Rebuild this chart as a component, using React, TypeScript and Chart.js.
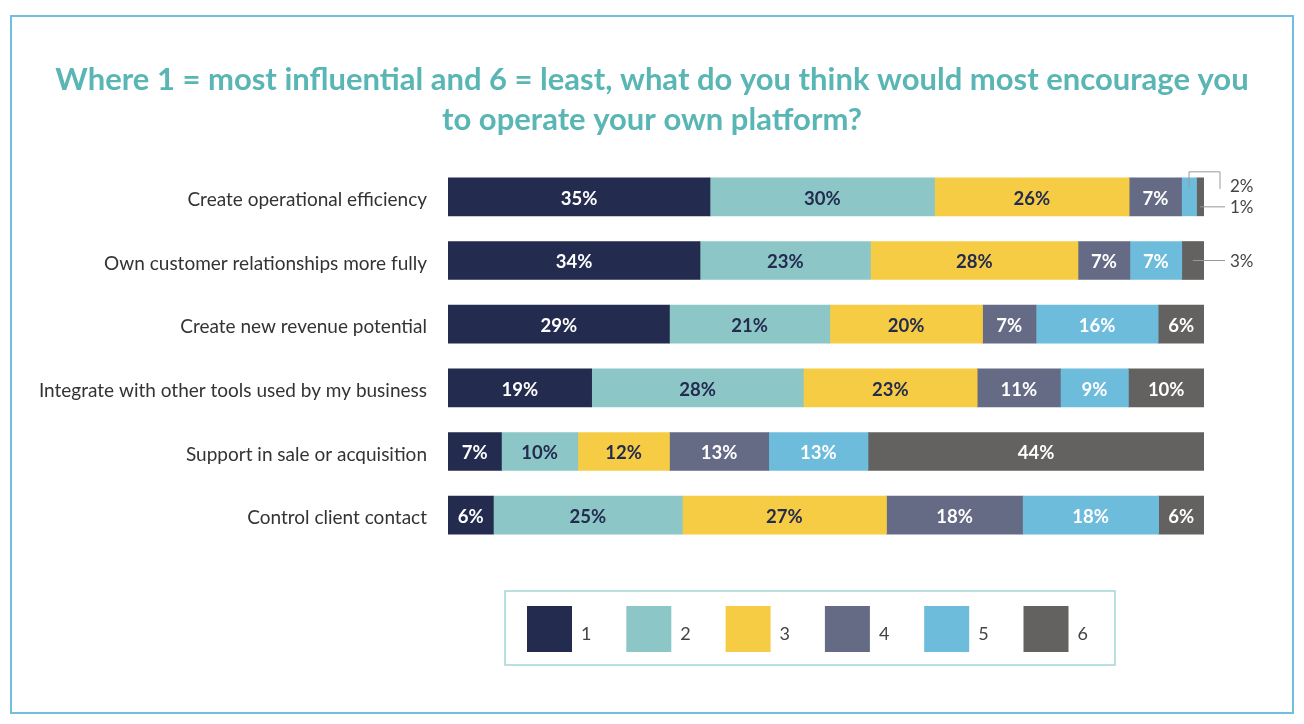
import React, { useEffect, useRef } from "react";
import { Chart, registerables } from "chart.js";

Chart.register(...registerables);

const titleLines = [
  "Where 1 = most influential and 6 = least, what do you think would most encourage you",
  "to operate your own platform?",
];

const categories = [
  "Create operational efficiency",
  "Own customer relationships more fully",
  "Create new revenue potential",
  "Integrate with other tools used by my business",
  "Support in sale or acquisition",
  "Control client contact",
];

const rankLabels = ["1", "2", "3", "4", "5", "6"];
const rank1 = [35, 34, 29, 19, 7, 6];
const rank2 = [30, 23, 21, 28, 10, 25];
const rank3 = [26, 28, 20, 23, 12, 27];
const rank4 = [7, 7, 7, 11, 13, 18];
const rank5 = [2, 7, 16, 9, 13, 18];
const rank6 = [1, 3, 6, 10, 44, 6];

const seriesValues = [rank1, rank2, rank3, rank4, rank5, rank6];
const colors = ["#232b4f", "#8cc6c6", "#f6cc45", "#656a85", "#6dbcdc", "#636260"];
const textColors = ["#ffffff", "#232b4f", "#232b4f", "#ffffff", "#ffffff", "#ffffff"];

const FONT = "Lato, 'Open Sans', sans-serif";

export default function App() {
  const ref = useRef<HTMLCanvasElement | null>(null);

  useEffect(() => {
    if (!ref.current) return;
    const totals = categories.map((_, i) =>
      seriesValues.reduce((s, arr) => s + arr[i], 0)
    );

    const decorPlugin = {
      id: "decor",
      beforeDraw(chart: any) {
        const ctx = chart.ctx;
        ctx.save();
        ctx.fillStyle = "#ffffff";
        ctx.fillRect(0, 0, chart.width, chart.height);
        ctx.strokeStyle = "#6fbfdd";
        ctx.lineWidth = 2;
        ctx.strokeRect(11, 16, 1282, 697);
        ctx.fillStyle = "#5ab5b5";
        ctx.font = `bold 31px ${FONT}`;
        ctx.textAlign = "center";
        ctx.textBaseline = "middle";
        ctx.fillText(titleLines[0], 652, 80);
        ctx.fillText(titleLines[1], 652, 120);
        // legend
        ctx.strokeStyle = "#a3d6d6";
        ctx.lineWidth = 1.5;
        ctx.strokeRect(505, 591, 610, 74);
        ctx.font = `18px ${FONT}`;
        ctx.textAlign = "left";
        for (let k = 0; k < rankLabels.length; k++) {
          const x = 527 + k * 99.3;
          ctx.fillStyle = colors[k];
          ctx.fillRect(x, 606, 45, 46);
          ctx.fillStyle = "#444444";
          ctx.fillText(rankLabels[k], x + 54, 634);
        }
        ctx.restore();
      },
      afterDatasetsDraw(chart: any) {
        const ctx = chart.ctx;
        const right = chart.chartArea.right;
        ctx.save();
        ctx.textBaseline = "middle";
        for (let d = 0; d < seriesValues.length; d++) {
          const meta = chart.getDatasetMeta(d);
          meta.data.forEach((bar: any, i: number) => {
            const v = seriesValues[d][i];
            const cx = (bar.x + bar.base) / 2;
            const h = bar.height;
            if (v >= 5) {
              ctx.font = `bold 18.5px ${FONT}`;
              ctx.fillStyle = textColors[d];
              ctx.textAlign = "center";
              ctx.fillText(`${v}%`, cx, bar.y + 2);
            } else {
              ctx.font = `17px ${FONT}`;
              ctx.fillStyle = "#444444";
              ctx.textAlign = "left";
              ctx.strokeStyle = "#999999";
              ctx.lineWidth = 1;
              const nextSmall = d < seriesValues.length - 1 && seriesValues[d + 1][i] < 5;
              const prevSmall = d > 0 && seriesValues[d - 1][i] < 5;
              if (nextSmall) {
                const top = bar.y - h / 2;
                ctx.beginPath();
                ctx.moveTo(cx, top + 10);
                ctx.lineTo(cx, top - 6);
                ctx.lineTo(right + 16, top - 6);
                ctx.lineTo(right + 16, top + 11);
                ctx.stroke();
                ctx.fillText(`${v}%`, right + 26, bar.y - 10);
              } else {
                const y = prevSmall ? bar.y + 10 : bar.y;
                ctx.beginPath();
                ctx.moveTo(cx, y);
                ctx.lineTo(right + 21, y);
                ctx.stroke();
                ctx.fillText(`${v}%`, right + 26, y + 1);
              }
            }
          });
        }
        ctx.restore();
      },
    };

    const chart = new Chart(ref.current, {
      type: "bar",
      data: {
        labels: categories,
        datasets: seriesValues.map((arr, k) => ({
          label: rankLabels[k],
          data: arr.map((v, i) => (v / totals[i]) * 100),
          backgroundColor: colors[k],
          borderWidth: 0,
          barThickness: 38,
        })),
      },
      options: {
        indexAxis: "y",
        responsive: false,
        animation: false,
        layout: { padding: { top: 165, bottom: 177, right: 100, left: 0 } },
        plugins: {
          legend: { display: false },
          title: { display: false },
          tooltip: { enabled: false },
        },
        scales: {
          x: {
            stacked: true,
            min: 0,
            max: 100,
            display: false,
          },
          y: {
            stacked: true,
            grid: { display: false, drawTicks: false },
            border: { display: false },
            ticks: {
              padding: 21,
              labelOffset: 3,
              color: "#333333",
              font: { family: FONT, size: 19 },
            },
            afterFit(scale: any) {
              scale.width = 448;
            },
          },
        },
      },
      plugins: [decorPlugin],
    } as any);
    return () => chart.destroy();
  }, []);

  return (
    <div style={{ position: "absolute", left: 0, top: 0, width: 1304, height: 724 }}>
      <canvas ref={ref} width={1304} height={724} style={{ display: "block" }} />
    </div>
  );
}
